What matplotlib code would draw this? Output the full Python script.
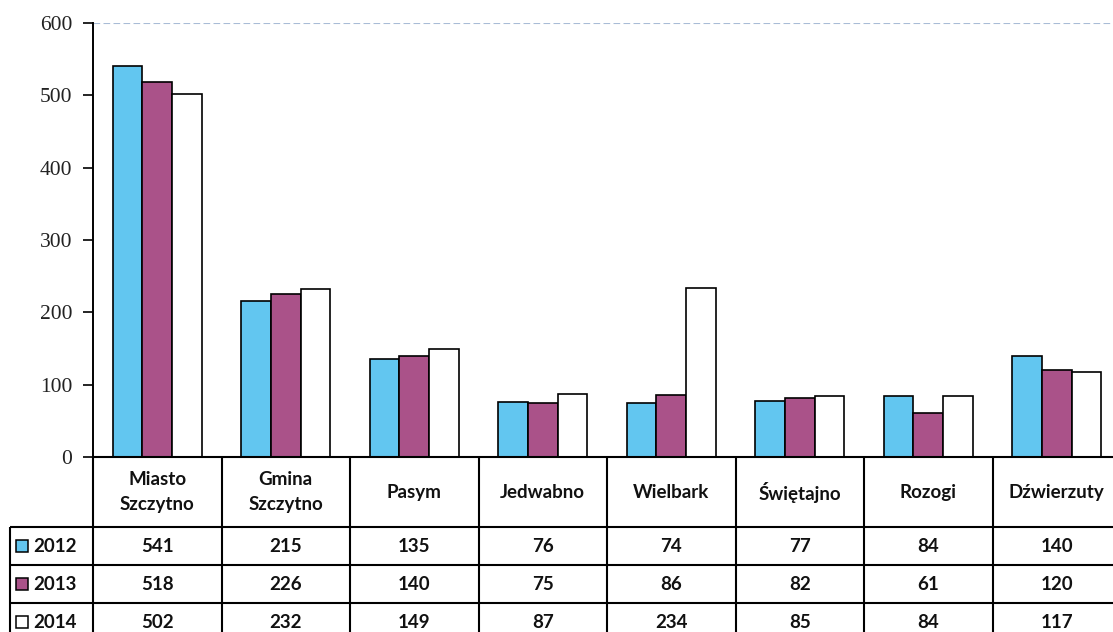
import matplotlib
matplotlib.use("Agg")
import matplotlib.pyplot as plt
from matplotlib.patches import Rectangle

categories = ["Miasto\nSzczytno", "Gmina\nSzczytno", "Pasym", "Jedwabno", "Wielbark",
              "Świętajno", "Rozogi", "Dźwierzuty"]
years = ["2012", "2013", "2014"]
v2012 = [541, 215, 135, 76, 74, 77, 84, 140]
v2013 = [518, 226, 140, 75, 86, 82, 61, 120]
v2014 = [502, 232, 149, 87, 234, 85, 84, 117]
series = [v2012, v2013, v2014]
colors = ["#62C6F0", "#AA5289", "#FFFFFF"]
yticks = [0, 100, 200, 300, 400, 500, 600]

W, H = 1113, 632
fig = plt.figure(figsize=(W / 100, H / 100), dpi=100)

# layout in pixels
ax_left, ax_right, ax_top, ax_bottom = 93, 1121, 23, 457
ax = fig.add_axes([ax_left / W, (H - ax_bottom) / H, (ax_right - ax_left) / W,
                   (ax_bottom - ax_top) / H])
n = len(categories)
bw = 0.23
for j, vals in enumerate(series):
    xs = [i + (j - 1) * bw for i in range(n)]
    ax.bar(xs, vals, width=bw, color=colors[j], edgecolor="black", linewidth=1.2, zorder=3)

ax.set_xlim(-0.5, n - 0.5)
ax.set_ylim(0, 600)
ax.set_yticks(yticks)
ax.set_yticklabels([str(t) for t in yticks], family="Liberation Serif", fontsize=15.5,
                   color="#222222")
ax.tick_params(axis="y", direction="out", length=7, width=1.2, pad=8)
ax.tick_params(axis="x", bottom=False, labelbottom=False)
for s in ["top", "right"]:
    ax.spines[s].set_visible(False)
ax.spines["left"].set_linewidth(1.4)
ax.spines["bottom"].set_linewidth(1.4)
ax.axhline(600, color="#A9BCD6", lw=0.8, ls=(0, (6, 3)), zorder=1)

# table
tax = fig.add_axes([0, 0, 1, (H - ax_bottom) / H])
tax.set_xlim(0, W)
tax.set_ylim(H, ax_bottom)
tax.axis("off")

colw = (ax_right - ax_left) / n
row_tops = [527, 565, 603, 641]
lw = 1.5
kw = dict(color="black", lw=lw, clip_on=False, solid_capstyle="butt")
# horizontal lines
tax.plot([ax_left, ax_right], [ax_bottom, ax_bottom], **kw)
for y in row_tops:
    tax.plot([10, ax_right], [y, y], **kw)
# vertical lines
tax.plot([10, 10], [row_tops[0], row_tops[-1]], **kw)
for i in range(n + 1):
    x = ax_left + i * colw
    tax.plot([x, x], [ax_bottom, row_tops[-1]], **kw)

font_h = dict(family=["Lato", "DejaVu Sans"], fontweight="bold", fontsize=13.5)
font_t = dict(family=["Lato", "DejaVu Sans"], fontweight="bold", fontsize=13.5)
for i, c in enumerate(categories):
    xc = ax_left + (i + 0.5) * colw
    tax.text(xc, (ax_bottom + row_tops[0]) / 2, c, ha="center", va="center",
             linespacing=1.6, color="#111111", **font_h)
for j, vals in enumerate(series):
    yc = (row_tops[j] + row_tops[j + 1]) / 2
    for i, v in enumerate(vals):
        xc = ax_left + (i + 0.5) * colw
        tax.text(xc, yc, str(v), ha="center", va="center", color="#111111", **font_t)
    tax.add_patch(Rectangle((16, yc - 6), 12, 12, facecolor=colors[j], edgecolor="black",
                            lw=1.1, clip_on=False))
    tax.text(33, yc + 1, years[j], ha="left", va="center", color="#111111", **font_t)

fig.savefig("out.png", dpi=100)
